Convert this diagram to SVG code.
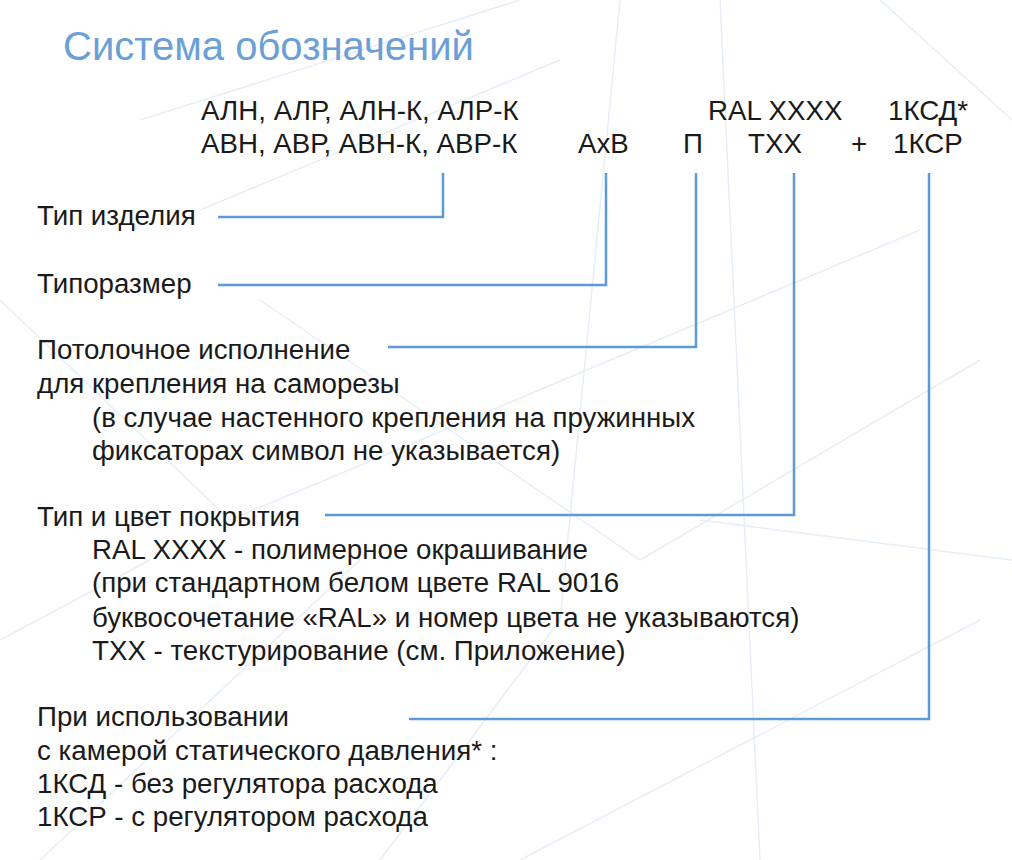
<svg xmlns="http://www.w3.org/2000/svg" width="1012" height="860" viewBox="0 0 1012 860">
<style>
text{font-family:"Liberation Sans",Arial,sans-serif;font-size:27.7px;fill:#1a1a1a}
.t{font-size:40px;fill:#6b9fd6}
.c{fill:none;stroke:#5d9ad6;stroke-width:2.5}
.bg{fill:none;stroke:#e6eef8;stroke-width:1.5}
</style>
<rect width="1012" height="860" fill="#fff"/>
<g id="background">
<path class="bg" d="M140 120 L520 0 M200 210 L560 60 M260 300 L640 560 L980 360 M620 0 L560 620 L380 860 M0 300 L230 520 L920 230 M720 0 L760 860 M0 640 L150 560 M40 860 L360 560 M520 860 L980 620 M700 520 L1012 560 M880 0 L1012 120"/>
</g>
<text class="t" x="63" y="60">Система обозначений</text>
<g id="header">
<text x="201" y="120">АЛН, АЛР, АЛН-К, АЛР-К</text>
<text x="201" y="153">АВН, АВР, АВН-К, АВР-К</text>
<text x="578" y="153">АхВ</text>
<text x="683" y="153">П</text>
<text x="708" y="120">RAL XXXX</text>
<text x="748" y="153">ТХХ</text>
<text x="851" y="153">+</text>
<text x="888" y="120">1КСД*</text>
<text x="893" y="153">1КСР</text>
</g>
<g id="connectors">
<path class="c" d="M443 173 V217 H218"/>
<path class="c" d="M606 173 V285 H218"/>
<path class="c" d="M696 173 V347 H388"/>
<path class="c" d="M794 173 V515 H325"/>
<path class="c" d="M929 173 V719 H409"/>
</g>
<g id="n1"><text x="37" y="225">Тип изделия</text></g>
<g id="n2"><text x="37" y="293">Типоразмер</text></g>
<g id="n3">
<text x="37" y="359">Потолочное исполнение</text>
<text x="37" y="393">для крепления на саморезы</text>
<text x="92" y="427">(в случае настенного крепления на пружинных</text>
<text x="92" y="460">фиксаторах символ не указывается)</text>
</g>
<g id="n4">
<text x="37" y="526">Тип и цвет покрытия</text>
<text x="92" y="559">RAL XXXX - полимерное окрашивание</text>
<text x="92" y="592">(при стандартном белом цвете RAL 9016</text>
<text x="92" y="627">буквосочетание «RAL» и номер цвета не указываются)</text>
<text x="92" y="660">ТХХ - текстурирование (см. Приложение)</text>
</g>
<g id="n5">
<text x="37" y="726">При использовании</text>
<text x="37" y="760">с камерой статического давления* :</text>
<text x="37" y="793">1КСД - без регулятора расхода</text>
<text x="37" y="826">1КСР - с регулятором расхода</text>
</g>
</svg>
